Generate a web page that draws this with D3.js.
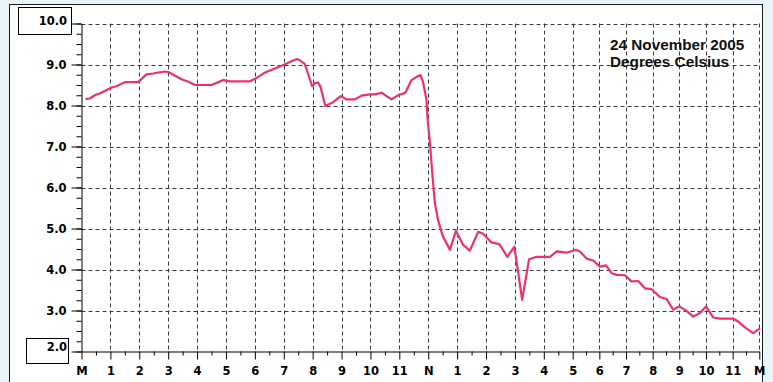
<!DOCTYPE html>
<html>
<head>
<meta charset="utf-8">
<script src="https://cdn.jsdelivr.net/npm/d3@7/dist/d3.min.js"></script>
<style>
  html, body { margin: 0; padding: 0; background: #eaf5fa; }
  svg { display: block; }
</style>
</head>
<body>
<svg id="chart" width="773" height="382"></svg>
<script>
// Hourly temperature trace, 24 November 2005 (hours after midnight, °C)
const hours = [
  0.17, 0.29, 0.46, 0.69, 0.87, 1.04, 1.21, 1.50, 1.96, 2.25, 2.48, 2.71, 2.89, 3.02,
  3.23, 3.46, 3.70, 3.93, 4.50, 4.74, 4.91, 5.14, 5.83, 6.01, 6.34, 6.69, 7.03, 7.26,
  7.44, 7.55, 7.73, 7.84, 7.98, 8.07, 8.19, 8.27, 8.44, 8.71, 8.97, 9.17, 9.46, 9.69,
  9.98, 10.15, 10.40, 10.56, 10.73, 10.96, 11.21, 11.42, 11.65, 11.73, 11.82, 11.94,
  11.98, 12.06, 12.15, 12.23, 12.34, 12.50, 12.75, 12.96, 13.21, 13.44, 13.73, 13.90,
  14.19, 14.46, 14.74, 14.98, 15.10, 15.25, 15.49, 15.75, 16.21, 16.45, 16.79, 17.12,
  17.27, 17.53, 17.77, 18.02, 18.25, 18.46, 18.65, 18.96, 19.21, 19.46, 19.71, 19.96,
  20.27, 20.52, 20.77, 21.00, 21.27, 21.52, 21.77, 22.00, 22.27, 22.52, 23.02, 23.21,
  23.46, 23.77, 24.00
];
const temps = [
  8.16, 8.17, 8.25, 8.31, 8.38, 8.44, 8.47, 8.57, 8.57, 8.76, 8.78, 8.81, 8.83, 8.81,
  8.73, 8.64, 8.58, 8.50, 8.50, 8.57, 8.62, 8.59, 8.59, 8.65, 8.80, 8.90, 9.00, 9.08,
  9.13, 9.11, 9.01, 8.78, 8.47, 8.54, 8.56, 8.46, 7.99, 8.08, 8.23, 8.15, 8.15, 8.24,
  8.27, 8.27, 8.31, 8.23, 8.15, 8.25, 8.31, 8.62, 8.72, 8.74, 8.58, 8.13,
  7.64, 7.08, 6.26, 5.62, 5.21, 4.82, 4.48, 4.94, 4.60, 4.46, 4.92, 4.87,
  4.66, 4.62, 4.31, 4.56, 3.99, 3.26, 4.25, 4.31, 4.31, 4.44, 4.41, 4.48,
  4.44, 4.26, 4.22, 4.07, 4.10, 3.91, 3.87, 3.86, 3.71, 3.72, 3.54, 3.52,
  3.33, 3.28, 3.02, 3.10, 2.99, 2.85, 2.94, 3.10, 2.83, 2.80, 2.80, 2.73,
  2.59, 2.45, 2.55
];
const hourLabels = ["M","1","2","3","4","5","6","7","8","9","10","11",
                    "N","1","2","3","4","5","6","7","8","9","10","11","M"];
const tempTicks = [3, 4, 5, 6, 7, 8, 9];
const titleLines = ["24 November 2005", "Degrees Celsius"];

const svg = d3.select("#chart");

// time axis: the afternoon hours sit a little closer together on this display
const x = d3.scaleLinear().domain([0, 17, 24]).range([81.5, 572.7, 759.3]);
const y = d3.scaleLinear().domain([2, 10]).range([351.5, 23.5]);

// panel
svg.append("rect")
  .attr("x", 9.5).attr("y", 4.5).attr("width", 753).attr("height", 420)
  .attr("fill", "#ffffff").attr("stroke", "#1a1a1a").attr("stroke-width", 1);

// dashed grid
const grid = svg.append("g").attr("stroke", "#3a3a3a").attr("stroke-width", 1)
  .attr("stroke-dasharray", "4,3").attr("fill", "none");
grid.selectAll("line.h").data(d3.range(3, 11)).join("line").attr("class", "h")
  .attr("x1", x(0)).attr("x2", x(24))
  .attr("y1", d => Math.round(y(d)) + 0.5).attr("y2", d => Math.round(y(d)) + 0.5);
grid.selectAll("line.v").data(d3.range(1, 25)).join("line").attr("class", "v")
  .attr("x1", d => Math.round(x(d)) + 0.5).attr("x2", d => Math.round(x(d)) + 0.5)
  .attr("y1", y(10)).attr("y2", y(2));

const font = "'DejaVu Sans', sans-serif";
const labelSize = 11.5;

// left axis: quarter-degree minor ticks, whole-degree major ticks
svg.append("g").attr("transform", `translate(${x(0)},0)`)
  .call(d3.axisLeft(y).tickValues(d3.range(2, 10.01, 0.25)).tickSize(5).tickSizeOuter(0).tickFormat(""))
  .call(g => g.select(".domain").remove());
svg.append("g").attr("transform", `translate(${x(0)},0)`)
  .call(d3.axisLeft(y).tickValues(d3.range(2, 11)).tickSize(10).tickSizeOuter(0).tickPadding(5)
    .tickFormat(d => tempTicks.includes(d) ? d3.format(".1f")(d) : ""))
  .call(g => g.selectAll("text").attr("font-family", font).attr("font-weight", "bold")
    .attr("font-size", labelSize).attr("fill", "#000"))
  .call(g => g.selectAll("line, path").attr("stroke", "#000"));

// bottom axis: half-hour minor ticks, hourly labelled ticks
svg.append("g").attr("transform", `translate(0,${y(2)})`)
  .call(d3.axisBottom(x).tickValues(d3.range(0.5, 24, 1)).tickSize(4).tickSizeOuter(0).tickFormat(""))
  .call(g => g.select(".domain").remove())
  .call(g => g.selectAll("line").attr("stroke", "#000"));
svg.append("g").attr("transform", `translate(0,${y(2)})`)
  .call(d3.axisBottom(x).tickValues(d3.range(0, 25)).tickSize(8).tickSizeOuter(0).tickPadding(7)
    .tickFormat((d, i) => hourLabels[i]))
  .call(g => g.selectAll("text").attr("font-family", font).attr("font-weight", "bold")
    .attr("font-size", labelSize).attr("fill", "#000"))
  .call(g => g.selectAll("line, path").attr("stroke", "#000"));

// boxed scale limits
const limits = [
  { v: 10, label: "10.0", box: [18.5, 7.5, 53, 27], base: 25 },
  { v: 2,  label: "2.0",  box: [26.5, 338.5, 42, 25], base: 351 }
];
limits.forEach(l => {
  svg.append("rect").attr("x", l.box[0]).attr("y", l.box[1])
    .attr("width", l.box[2]).attr("height", l.box[3])
    .attr("fill", "#fff").attr("stroke", "#000").attr("stroke-width", 1);
  svg.append("text").attr("x", 67).attr("y", l.base).attr("text-anchor", "end")
    .attr("font-family", font).attr("font-weight", "bold").attr("font-size", labelSize)
    .text(l.label);
});

// title block
svg.append("g").selectAll("text").data(titleLines).join("text")
  .attr("x", 610).attr("y", (d, i) => 50 + i * 17)
  .attr("font-family", "'Liberation Sans', Arial, sans-serif").attr("font-weight", "bold")
  .attr("font-size", 15.3).attr("fill", "#111")
  .text(d => d);

// temperature trace
const series = hours.map((h, i) => [h, temps[i]]);
svg.append("path").datum(series)
  .attr("fill", "none").attr("stroke", "#ef2f6f").attr("stroke-width", 2.2)
  .attr("stroke-linejoin", "round").attr("stroke-linecap", "round")
  .attr("d", d3.line().x(d => x(d[0])).y(d => y(d[1])));
</script>
</body>
</html>
